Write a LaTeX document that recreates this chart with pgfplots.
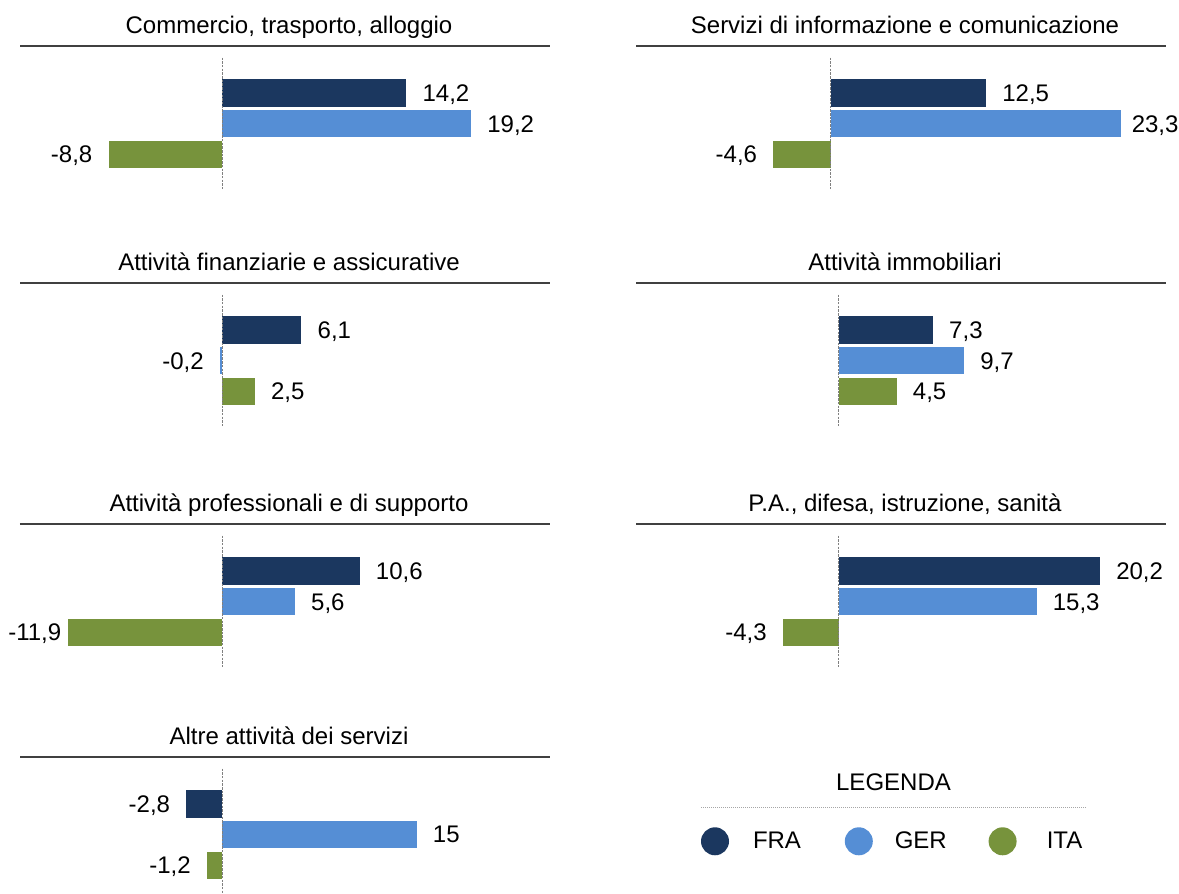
\documentclass[border=0pt]{standalone}
\usepackage{pgfplots}
\pgfplotsset{compat=1.18}
\usepackage{fontspec}
\setmainfont{Liberation Sans}
\definecolor{fra}{HTML}{1B375F}
\definecolor{ger}{HTML}{558ED5}
\definecolor{ita}{HTML}{77933C}
\newcommand{\chartfont}{\fontsize{24pt}{28pt}\selectfont}
\newcommand{\panelextras}{%
  \draw[black!75, line width=1.3pt] (rel axis cs:0,1) -- (rel axis cs:1,1);
  \draw[black!50, line width=1pt, dash pattern=on 2.5pt off 1.2pt] (axis cs:0,4.156) -- (axis cs:0,-0.127);
}
\pgfplotsset{
  panel/.style={
    anchor=north west, scale only axis, width=530pt, height=143pt,
    xmin=-15.637, xmax=25.29, ymin=-0.127, ymax=4.531,
    hide axis, clip=false,
    point meta=x,
    nodes near coords, nodes near coords align={horizontal},
    every node near coord/.append style={font=\chartfont, inner xsep=16pt, inner ysep=0pt, text depth=0pt, text=black},
    /pgf/number format/use comma,
    /pgf/number format/assume math mode=true,
    /pgf/number format/1000 sep={},
    title style={font=\chartfont, at={(0.5,1)}, anchor=base, yshift=6pt, xshift=4pt},
  },
  barstyle/.style={xbar, bar width=27.5pt, bar shift=0pt, draw=none},
}
\begin{document}
\begin{tikzpicture}
\useasboundingbox (0,0) rectangle (1179pt,894pt);

% Panel 1
\begin{axis}[panel, at={(20pt,848pt)}, title={Commercio, trasporto, alloggio}]
\addplot[barstyle, fill=fra] coordinates {(14.2,3)};
\addplot[barstyle, fill=ger] coordinates {(19.2,2)};
\addplot[barstyle, fill=ita] coordinates {(-8.8,1)};
\panelextras
\end{axis}

% Panel 2
\begin{axis}[panel, at={(636pt,848pt)}, xmin=-15.622, xmax=26.948, title={Servizi di informazione e comunicazione}]
\addplot[barstyle, fill=fra] coordinates {(12.5,3)};
\addplot[barstyle, fill=ger, every node near coord/.append style={inner xsep=11pt}] coordinates {(23.3,2)};
\addplot[barstyle, fill=ita] coordinates {(-4.6,1)};
\panelextras
\end{axis}

% Panel 3
\begin{axis}[panel, at={(20pt,611pt)}, title={Attività finanziarie e assicurative}]
\addplot[barstyle, fill=fra] coordinates {(6.1,3)};
\addplot[barstyle, fill=ger] coordinates {(-0.2,2)};
\addplot[barstyle, fill=ita] coordinates {(2.5,1)};
\panelextras
\end{axis}

% Panel 4
\begin{axis}[panel, at={(636pt,611pt)}, title={Attività immobiliari}]
\addplot[barstyle, fill=fra] coordinates {(7.3,3)};
\addplot[barstyle, fill=ger] coordinates {(9.7,2)};
\addplot[barstyle, fill=ita] coordinates {(4.5,1)};
\panelextras
\end{axis}

% Panel 5
\begin{axis}[panel, at={(20pt,370pt)}, title={Attività professionali e di supporto}]
\addplot[barstyle, fill=fra] coordinates {(10.6,3)};
\addplot[barstyle, fill=ger] coordinates {(5.6,2)};
\addplot[barstyle, fill=ita, every node near coord/.append style={inner xsep=7pt}] coordinates {(-11.9,1)};
\panelextras
\end{axis}

% Panel 6
\begin{axis}[panel, at={(636pt,370pt)}, title={P.A., difesa, istruzione, sanità}]
\addplot[barstyle, fill=fra] coordinates {(20.2,3)};
\addplot[barstyle, fill=ger] coordinates {(15.3,2)};
\addplot[barstyle, fill=ita] coordinates {(-4.3,1)};
\panelextras
\end{axis}

% Panel 7
\begin{axis}[panel, at={(20pt,137pt)}, title={Altre attività dei servizi}]
\addplot[barstyle, fill=fra] coordinates {(-2.8,3)};
\addplot[barstyle, fill=ger] coordinates {(15,2)};
\addplot[barstyle, fill=ita] coordinates {(-1.2,1)};
\panelextras
\end{axis}

% Legend
\begin{axis}[at={(701pt,86.7pt)}, anchor=north west, scale only axis, width=385pt, height=68pt,
  hide axis, xmin=0, xmax=1, ymin=0, ymax=1, clip=false,
  legend columns=3,
  legend image code/.code={\fill[#1] (14pt,0pt) circle[radius=14pt];},
  legend style={at={(0,0.5)}, anchor=west, draw=none, fill=none, inner sep=0pt, outer sep=0pt,
    font=\chartfont, row sep=0pt, cells={anchor=west, inner sep=0pt},
    /tikz/every odd column/.append style={column sep=16pt},
    /tikz/every even column/.append style={column sep=35.8pt}},
]
\addlegendimage{fill=fra, draw=none}
\addlegendentry{\makebox[60pt]{FRA}}
\addlegendimage{fill=ger, draw=none}
\addlegendentry{\makebox[60pt]{GER}}
\addlegendimage{fill=ita, draw=none}
\addlegendentry{\makebox[60pt]{ITA}}
\node[font=\chartfont, anchor=base, yshift=17pt] at (axis description cs:0.5,1) {LEGENDA};
\draw[black!35, line width=0.7pt, dash pattern=on 1pt off 1pt] (axis description cs:0,1) -- (axis description cs:1,1);
\end{axis}
\end{tikzpicture}
\end{document}
